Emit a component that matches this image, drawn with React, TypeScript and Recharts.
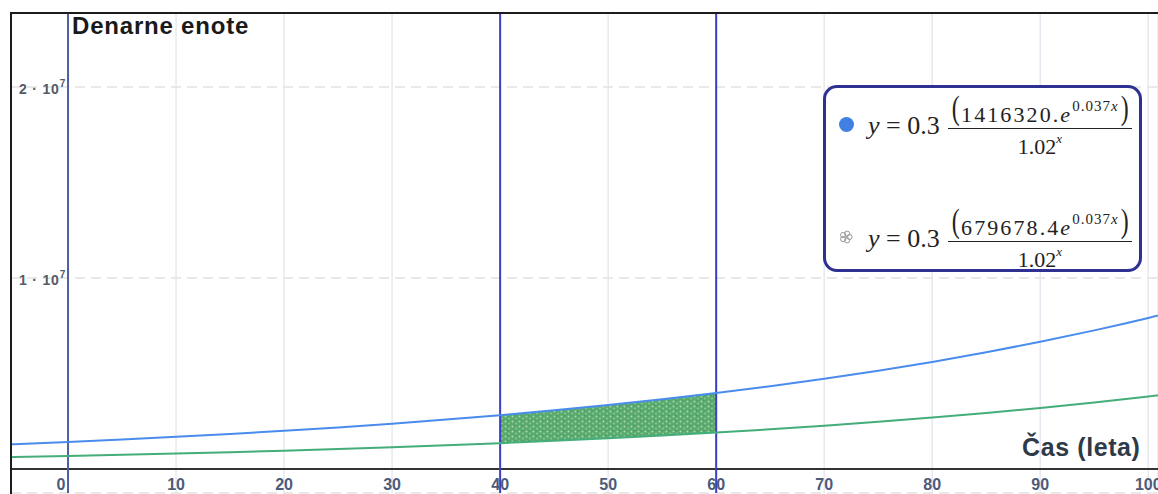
import React from "react";
import {
  ComposedChart,
  Line,
  Area,
  XAxis,
  YAxis,
  CartesianGrid,
  ReferenceLine,
} from "recharts";

// Years (x) and the two value curves (denarne enote)
const years = [-10, -5, 0, 5, 10, 15, 20, 25, 30, 35, 40, 45, 50, 55, 60, 65, 70, 75, 80, 85, 90, 95, 100, 105];
const upperValues = [
  1192540, 1299630, 1416320, 1543490, 1682090, 1833140, 1997730, 2177110, 2372590, 2585630, 2817790, 3070800,
  3346530, 3647010, 3974480, 4331350, 4720270, 5144100, 5605990, 6109360, 6657930, 7255750, 7907240, 8617200,
];
const lowerValues = [
  572290, 623680, 679680, 740710, 807210, 879710, 958690, 1044780, 1138580, 1240820, 1352230, 1473650, 1605970,
  1750170, 1907320, 2078580, 2265220, 2468610, 2690270, 2931830, 3195090, 3481970, 3794620, 4135340,
];
const xTicks = [0, 10, 20, 30, 40, 50, 60, 70, 80, 90, 100];
const yTicks = [10000000, 20000000];
const markerYears = [0, 40, 60];
const bandStart = 40;
const bandEnd = 60;
const xDomain = [-5.28, 100.9];
const yDomain = [-1257000, 23870000];
const formulaUpper = { coef: "1416320.", sep: "e" };
const formulaLower = { coef: "679678.4", sep: "e" };

const data = years.map((x, i) => ({
  x,
  upper: upperValues[i],
  lower: lowerValues[i],
  band: x >= bandStart && x <= bandEnd ? [lowerValues[i], upperValues[i]] : null,
}));

const renderXTick = (props: any) => {
  const { x, payload } = props;
  const v = payload.value;
  return (
    <text
      key={`xt-${v}`}
      x={x + (v === 0 ? -7 : 0)}
      y={490}
      textAnchor="middle"
      fontSize={16}
      fontWeight="bold"
      fontFamily="'Liberation Sans', Arial, sans-serif"
      fill="#4d5a78"
    >
      {v}
    </text>
  );
};

const renderYTick = (props: any) => {
  const { y, payload } = props;
  const v = payload.value;
  const e = Math.floor(Math.log10(v));
  const m = Math.round(v / Math.pow(10, e));
  return (
    <text
      key={`yt-${v}`}
      x={66}
      y={y + 7}
      textAnchor="end"
      fontSize={14}
      fontWeight="bold"
      letterSpacing={0.8}
      fontFamily="'Liberation Sans', Arial, sans-serif"
      fill="#555a66"
    >
      {m} · 10
      <tspan dy={-7} fontSize={10}>
        {e}
      </tspan>
    </text>
  );
};

const Fraction = ({ coef, sep }: { coef: string; sep: string }) => (
  <div style={{ display: "inline-flex", flexDirection: "column", alignItems: "center", marginLeft: 8 }}>
    <div style={{ display: "flex", alignItems: "center", padding: "0 2px" }}>
      <span style={{ fontSize: 34, lineHeight: "32px", transform: "scaleX(0.7)" }}>(</span>
      <span style={{ fontSize: 22, lineHeight: "26px", marginTop: 8, letterSpacing: 2.1 }}>
        {coef}
        <i>{sep}</i>
        <sup style={{ fontSize: 15, position: "relative", top: -3, letterSpacing: 1 }}>
          0.037<i>x</i>
        </sup>
      </span>
      <span style={{ fontSize: 34, lineHeight: "32px", transform: "scaleX(0.7)" }}>)</span>
    </div>
    <div style={{ alignSelf: "stretch", borderTop: "1.5px solid #222", marginTop: 0 }} />
    <div style={{ fontSize: 22, lineHeight: "26px" }}>
      1.02
      <sup style={{ fontSize: 13, position: "relative", top: -3 }}>
        <i>x</i>
      </sup>
    </div>
  </div>
);

const FormulaRow = ({ icon, coef, sep, top }: any) => (
  <div style={{ position: "absolute", left: 0, top, height: 70, display: "flex", alignItems: "center" }}>
    <div style={{ width: 40, display: "flex", justifyContent: "center" }}>{icon}</div>
    <div style={{ fontSize: 26, marginLeft: 2, marginTop: 4 }}>
      <i>y</i> = 0.3
    </div>
    <Fraction coef={coef} sep={sep} />
  </div>
);

const LegendBox = () => (
  <div
    style={{
      position: "absolute",
      left: 823,
      top: 85,
      width: 313,
      height: 181,
      border: "3px solid #2e3191",
      borderRadius: 14,
      background: "#fff",
      fontFamily: "'Liberation Serif', 'Times New Roman', serif",
      color: "#222",
      boxSizing: "content-box",
    }}
  >
    <FormulaRow
      top={1}
      icon={<div style={{ width: 15, height: 15, borderRadius: 8, background: "#3f80e2" }} />}
      coef={formulaUpper.coef}
      sep={formulaUpper.sep}
    />
    <FormulaRow
      top={114}
      icon={
        <svg width={14} height={14} viewBox="0 0 14 14">
          {[0, 72, 144, 216, 288].map((a) => (
            <circle
              key={a}
              cx={7 + 3.5 * Math.cos((a * Math.PI) / 180)}
              cy={7 + 3.5 * Math.sin((a * Math.PI) / 180)}
              r={2.6}
              fill="none"
              stroke="#999"
              strokeWidth={1}
            />
          ))}
        </svg>
      }
      coef={formulaLower.coef}
      sep={formulaLower.sep}
    />
  </div>
);

export default function App() {
  return (
    <div style={{ position: "absolute", left: 0, top: 0, width: 1158, height: 494, background: "#fff" }}>
      <ComposedChart width={1158} height={494} data={data} margin={{ top: 13, left: 10, right: 0, bottom: 0 }}>
        <defs>
          <pattern id="speckle" width="7" height="5" patternUnits="userSpaceOnUse">
            <rect width="7" height="5" fill="#5aaa6e" />
            <circle cx="1.5" cy="1.5" r="1" fill="#a9d9b4" />
            <circle cx="5" cy="3.5" r="0.9" fill="#8ccb9c" />
            <circle cx="4" cy="0.8" r="0.6" fill="#3f8a55" />
          </pattern>
        </defs>
        <CartesianGrid horizontal={false} stroke="#e8e8f0" strokeWidth={1.5} />
        <CartesianGrid vertical={false} stroke="#e2e2e2" strokeDasharray="10 6" strokeWidth={1.5} />
        <XAxis
          type="number"
          dataKey="x"
          domain={xDomain}
          ticks={xTicks}
          allowDataOverflow
          height={1}
          axisLine={false}
          tickLine={false}
          interval={0}
          tick={renderXTick}
        />
        <YAxis
          type="number"
          domain={yDomain}
          ticks={yTicks}
          allowDataOverflow
          width={1}
          axisLine={false}
          tickLine={false}
          interval={0}
          tick={renderYTick}
        />
        <Area
          type="monotone"
          dataKey="band"
          stroke="none"
          fill="url(#speckle)"
          fillOpacity={1}
          isAnimationActive={false}
          connectNulls={false}
          legendType="none"
        />
        <ReferenceLine y={0} stroke="#333" strokeWidth={2} />
        {markerYears.map((m) => (
          <ReferenceLine key={m} x={m} stroke={m === 0 ? "#4f5e9e" : "#3a3fc4"} strokeWidth={2} />
        ))}
        <Line
          type="monotone"
          dataKey="upper"
          stroke="#4a8ced"
          strokeWidth={2}
          dot={false}
          isAnimationActive={false}
        />
        <Line
          type="monotone"
          dataKey="lower"
          stroke="#44ad7a"
          strokeWidth={2}
          dot={false}
          isAnimationActive={false}
        />
      </ComposedChart>
      <LegendBox />
      <div
        style={{
          position: "absolute",
          left: 10,
          top: 12,
          width: 1148,
          height: 482,
          borderTop: "2px solid #1c1c1c",
          borderLeft: "2px solid #1c1c1c",
          pointerEvents: "none",
          boxSizing: "border-box",
        }}
      />
      <div
        style={{
          position: "absolute",
          left: 72,
          top: 12,
          fontFamily: "'Liberation Sans', Arial, sans-serif",
          fontWeight: "bold",
          fontSize: 24,
          letterSpacing: 0.8,
          color: "#1a1a1a",
        }}
      >
        Denarne enote
      </div>
      <div
        style={{
          position: "absolute",
          left: 1022,
          top: 433,
          fontFamily: "'Liberation Sans', Arial, sans-serif",
          fontWeight: "bold",
          fontSize: 25,
          letterSpacing: 0.6,
          color: "#2e3a48",
        }}
      >
        Čas (leta)
      </div>
    </div>
  );
}
